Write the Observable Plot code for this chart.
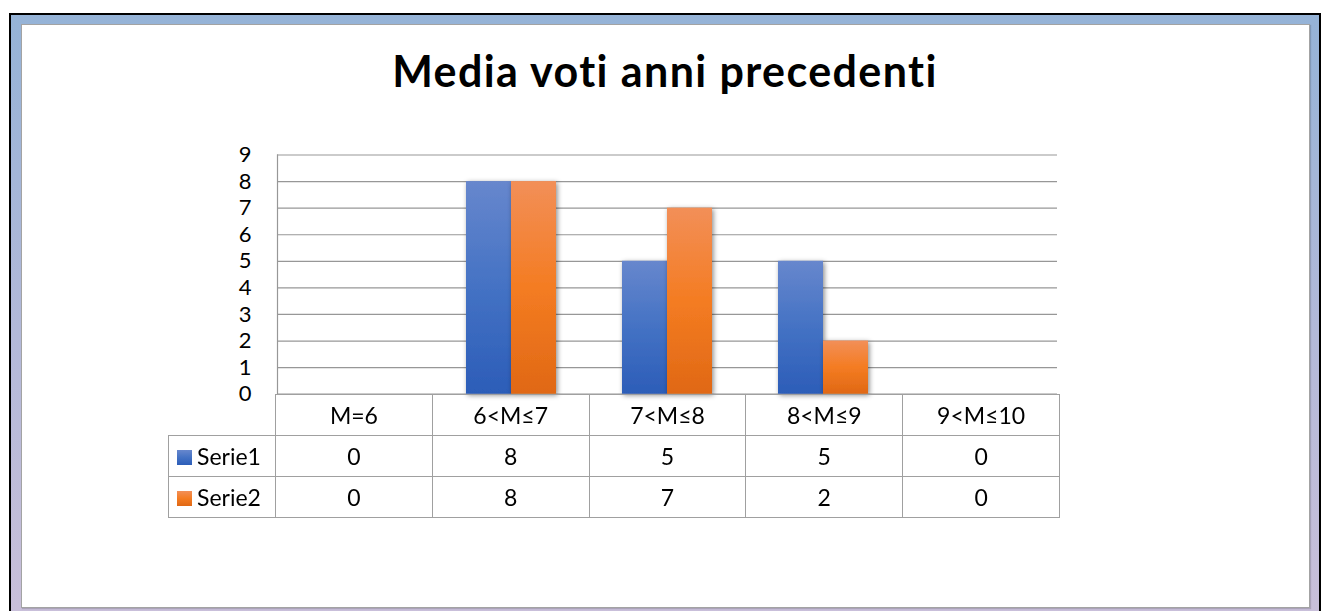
<!DOCTYPE html>
<html>
<head>
<meta charset="utf-8">
<script src="https://cdn.jsdelivr.net/npm/d3@7"></script>
<script src="https://cdn.jsdelivr.net/npm/@observablehq/plot@0.6"></script>
<style>
  html, body { margin: 0; padding: 0; background: #fff; }
  #page { position: relative; width: 1327px; height: 611px; overflow: hidden; font-family: Lato, "Open Sans", sans-serif; }
  #outer { position: absolute; left: 9px; top: 13px; width: 1308px; height: 640px;
           border: 2px solid #000; border-bottom: none;
           background: linear-gradient(to bottom, #95b3d7 0%, #b3b9d9 50%, #ccc0da 100%); }
  #inner { position: absolute; left: 21px; top: 24px; width: 1287px; height: 582px;
           background: #fff; border: 1px solid #a3a3a3; box-shadow: 1px 1px 1px rgba(0,0,0,0.15); }
  #title { position: absolute; left: 21px; width: 1288px; top: 48px; text-align: center;
           font-weight: bold; font-size: 43px; letter-spacing: 1.4px; color: #000; line-height: 46px; }
  #chart { position: absolute; left: 160px; top: 130px; }
  #tbl { position: absolute; left: 168px; top: 394px; border-collapse: collapse; table-layout: fixed;
         font-size: 23px; color: #000; }
  #tbl td { border: 1px solid #a0a0a0; text-align: center; padding: 0; height: 40px; line-height: 26px; }
  #tbl td.corner { border-left: none; border-top: none; }
  #tbl td.lab { text-align: left; padding-left: 8px; white-space: nowrap; }
  .sw { display: inline-block; width: 15px; height: 15px; margin-right: 5px; vertical-align: 0px; }
</style>
</head>
<body>
<div id="page">
  <div id="outer"></div>
  <div id="inner"></div>
  <div id="title"></div>
  <div id="chart"></div>
  <table id="tbl"></table>
</div>
<script>
const titleText = "Media voti anni precedenti";
const categories = ["M=6", "6<M≤7", "7<M≤8", "8<M≤9", "9<M≤10"];
const seriesNames = ["Serie1", "Serie2"];
const serie1 = [0, 8, 5, 5, 0];
const serie2 = [0, 8, 7, 2, 0];
const yTicks = [0, 1, 2, 3, 4, 5, 6, 7, 8, 9];
const gradients = {
  Serie1: ["#6787cd", "#4472c4", "#2c5db8"],
  Serie2: ["#f28f58", "#f47c22", "#e06815"]
};

document.getElementById("title").textContent = titleText;

const data = [];
categories.forEach((c, i) => {
  data.push({cat: c, series: seriesNames[0], value: serie1[i]});
  data.push({cat: c, series: seriesNames[1], value: serie2[i]});
});

const chart = Plot.plot({
  width: 920,
  height: 270,
  marginLeft: 115,
  marginRight: 21,
  marginTop: 24.5,
  marginBottom: 6.3,
  style: {fontFamily: "Lato, sans-serif", fontSize: "22px", color: "#000", background: "transparent"},
  fx: {domain: categories, padding: 0, axis: null, label: null},
  x: {domain: seriesNames, paddingInner: 0, paddingOuter: 0.723, axis: null, label: null},
  y: {domain: [0, 9], axis: null, label: null},
  marks: [
    Plot.ruleY(yTicks, {y: d => d, stroke: "#979797", strokeWidth: 1.2}),
    Plot.frame({anchor: "left", facetAnchor: "left", stroke: "#979797", strokeWidth: 1.2}),
    Plot.axisY({ticks: yTicks, tickSize: 0, tickPadding: 26, tickFormat: d => String(d), fontSize: 22, facetAnchor: "left", anchor: "left", label: null}),
    Plot.barY(data.filter(d => d.series === "Serie1"), {fx: "cat", x: "series", y: "value", fill: "url(#g-Serie1)"}),
    Plot.barY(data.filter(d => d.series === "Serie2"), {fx: "cat", x: "series", y: "value", fill: "url(#g-Serie2)"})
  ]
});

const svg = d3.select(chart.tagName.toLowerCase() === "svg" ? chart : chart.querySelector("svg"));
const defs = svg.insert("defs", ":first-child");
for (const s of seriesNames) {
  const g = defs.append("linearGradient").attr("id", "g-" + s).attr("x1", 0).attr("y1", 0).attr("x2", 0).attr("y2", 1);
  g.append("stop").attr("offset", "0%").attr("stop-color", gradients[s][0]);
  g.append("stop").attr("offset", "50%").attr("stop-color", gradients[s][1]);
  g.append("stop").attr("offset", "100%").attr("stop-color", gradients[s][2]);
}
const f = defs.append("filter").attr("id", "shadow").attr("x", "-30%").attr("y", "-10%").attr("width", "160%").attr("height", "130%");
f.append("feDropShadow").attr("dx", 1.5).attr("dy", 1.5).attr("stdDeviation", 2.5).attr("flood-color", "#000").attr("flood-opacity", 0.45);
svg.selectAll('g[aria-label="bar"]').attr("filter", "url(#shadow)");
svg.style("overflow", "visible");
document.getElementById("chart").appendChild(chart);

// data table below the chart
const tbl = d3.select("#tbl");
const cg = tbl.append("colgroup");
cg.append("col").style("width", "107px");
categories.forEach(() => cg.append("col").style("width", "156.8px"));
const head = tbl.append("tr");
head.append("td").attr("class", "corner");
categories.forEach(c => head.append("td").text(c));
[[seriesNames[0], serie1], [seriesNames[1], serie2]].forEach(([name, vals]) => {
  const tr = tbl.append("tr");
  const lab = tr.append("td").attr("class", "lab");
  lab.append("span").attr("class", "sw")
     .style("background", `linear-gradient(${gradients[name][0]}, ${gradients[name][1]}, ${gradients[name][2]})`);
  lab.append("span").text(name);
  vals.forEach(v => tr.append("td").text(v));
});
</script>
</body>
</html>
